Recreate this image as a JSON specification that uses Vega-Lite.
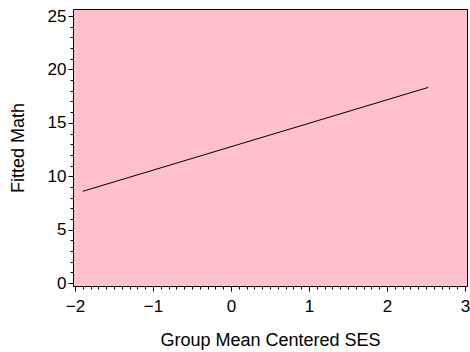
{
  "$schema": "https://vega.github.io/schema/vega-lite/v6.json",
  "width": 394,
  "height": 277,
  "autosize": {"type": "none"},
  "padding": {"left": 73, "top": 9, "right": 3, "bottom": 66},
  "background": "white",
  "config": {
    "view": {"fill": "#FFC0CB", "stroke": "black", "strokeWidth": 1},
    "axis": {
      "grid": false,
      "domain": false,
      "labelFont": "Liberation Sans",
      "titleFont": "Liberation Sans",
      "labelColor": "black",
      "titleColor": "black",
      "tickColor": "black",
      "labelFontSize": 17,
      "titleFontSize": 18,
      "titleFontWeight": "normal"
    }
  },
  "data": {
    "values": [
      {"ses": -1.9, "fitted": 8.59},
      {"ses": 2.53, "fitted": 18.32}
    ]
  },
  "layer": [
    {
      "mark": {"type": "line", "color": "black", "strokeWidth": 1},
      "encoding": {
        "x": {
          "field": "ses",
          "type": "quantitative",
          "scale": {"domain": [-2.026, 3.026], "nice": false, "zero": false},
          "axis": {
            "orient": "bottom",
            "values": [-2, -1, 0, 1, 2, 3],
            "title": "Group Mean Centered SES",
            "tickSize": 5,
            "labelPadding": 7,
            "titlePadding": 17
          }
        },
        "y": {
          "field": "fitted",
          "type": "quantitative",
          "scale": {"domain": [-0.28, 25.66], "nice": false, "zero": false},
          "axis": {
            "orient": "left",
            "values": [0, 5, 10, 15, 20, 25],
            "title": "Fitted Math",
            "tickSize": 5,
            "labelPadding": 2,
            "titlePadding": 20
          }
        }
      }
    },
    {
      "mark": {"type": "line", "opacity": 0},
      "encoding": {
        "x": {
          "field": "ses",
          "type": "quantitative",
          "scale": {"domain": [-2.026, 3.026], "nice": false, "zero": false},
          "axis": {
            "orient": "bottom",
            "values": [-2, -1.9, -1.8, -1.7, -1.6, -1.5, -1.4, -1.3, -1.2, -1.1, -1, -0.9, -0.8, -0.7, -0.6, -0.5, -0.4, -0.3, -0.2, -0.1, 0, 0.1, 0.2, 0.3, 0.4, 0.5, 0.6, 0.7, 0.8, 0.9, 1, 1.1, 1.2, 1.3, 1.4, 1.5, 1.6, 1.7, 1.8, 1.9, 2, 2.1, 2.2, 2.3, 2.4, 2.5, 2.6, 2.7, 2.8, 2.9, 3],
            "labels": false,
            "title": null,
            "tickSize": 3
          }
        },
        "y": {
          "field": "fitted",
          "type": "quantitative",
          "scale": {"domain": [-0.28, 25.66], "nice": false, "zero": false},
          "axis": {
            "orient": "left",
            "values": [0, 1, 2, 3, 4, 5, 6, 7, 8, 9, 10, 11, 12, 13, 14, 15, 16, 17, 18, 19, 20, 21, 22, 23, 24, 25],
            "labels": false,
            "title": null,
            "tickSize": 3
          }
        }
      }
    }
  ],
  "resolve": {"axis": {"x": "independent", "y": "independent"}}
}
